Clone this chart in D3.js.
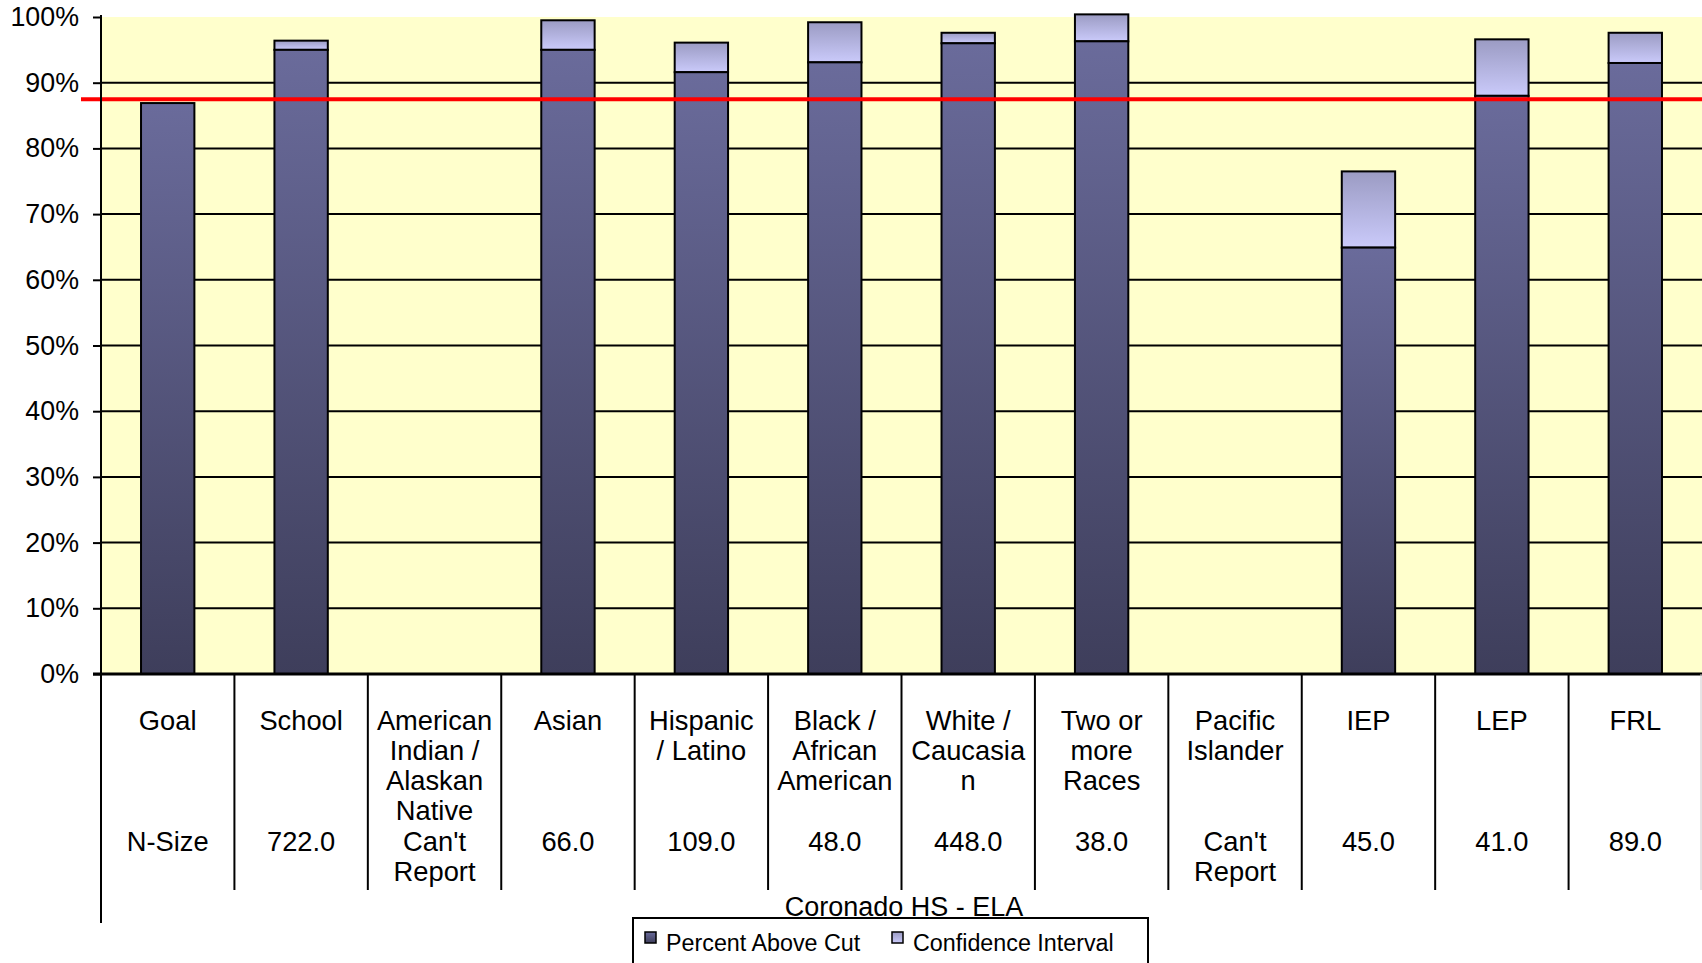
<!DOCTYPE html>
<html>
<head>
<meta charset="utf-8">
<script src="https://cdn.jsdelivr.net/npm/d3@7"></script>
<style>
  html, body { margin: 0; padding: 0; background: #ffffff; }
  svg { display: block; font-family: "Liberation Sans", Arial, sans-serif; }
</style>
</head>
<body>
<svg id="chart" width="1702" height="963"></svg>
<script>
// ---- data ----
const categories = ["Goal", "School", "American Indian / Alaskan Native", "Asian", "Hispanic / Latino",
  "Black / African American", "White / Caucasian", "Two or more Races", "Pacific Islander", "IEP", "LEP", "FRL"];
const categoryLines = [["Goal"], ["School"], ["American", "Indian /", "Alaskan", "Native"], ["Asian"],
  ["Hispanic", "/ Latino"], ["Black /", "African", "American"], ["White /", "Caucasia", "n"],
  ["Two or", "more", "Races"], ["Pacific", "Islander"], ["IEP"], ["LEP"], ["FRL"]];
const nSizeLines = [["N-Size"], ["722.0"], ["Can't", "Report"], ["66.0"], ["109.0"], ["48.0"], ["448.0"],
  ["38.0"], ["Can't", "Report"], ["45.0"], ["41.0"], ["89.0"]];
// Percent above cut (fraction)
const percentAboveCut = [0.869, 0.950, null, 0.950, 0.916, 0.931, 0.960, 0.963, null, 0.649, 0.880, 0.930];
// Upper end of confidence interval (fraction)
const ciUpper = [null, 0.964, null, 0.995, 0.961, 0.992, 0.976, 1.004, null, 0.765, 0.966, 0.976];
const goalLine = 0.875;
const yTicks = [0, 0.1, 0.2, 0.3, 0.4, 0.5, 0.6, 0.7, 0.8, 0.9, 1.0];
const chartTitle = "Coronado HS - ELA";
const legendLabels = ["Percent Above Cut", "Confidence Interval"];

// ---- layout ----
const W = 1702, H = 963;
const mLeft = 101, mRight = 1702, mTop = 17, mBottom = 674;
const svg = d3.select("#chart");

const x = d3.scaleBand().domain(categories).range([mLeft, mRight]).padding(0);
const y = d3.scaleLinear().domain([0, 1]).range([mBottom, mTop]);
const barW = x.bandwidth() * 0.4;

const defs = svg.append("defs");
const g1 = defs.append("linearGradient").attr("id", "gDark").attr("x1", 0).attr("y1", 0).attr("x2", 0).attr("y2", 1);
g1.append("stop").attr("offset", "0%").attr("stop-color", "#6a6b9b");
g1.append("stop").attr("offset", "100%").attr("stop-color", "#3e3e5b");
const g2 = defs.append("linearGradient").attr("id", "gLight").attr("x1", 0).attr("y1", 0).attr("x2", 0).attr("y2", 1);
g2.append("stop").attr("offset", "0%").attr("stop-color", "#9b9bc3");
g2.append("stop").attr("offset", "100%").attr("stop-color", "#cacafa");

// plot background
svg.append("rect").attr("x", mLeft).attr("y", mTop).attr("width", mRight - mLeft).attr("height", mBottom - mTop)
  .attr("fill", "#ffffcc");

// gridlines
svg.append("g").selectAll("line").data(yTicks.filter(t => t > 0 && t < 1)).join("line")
  .attr("x1", mLeft).attr("x2", mRight).attr("y1", d => y(d)).attr("y2", d => y(d))
  .attr("stroke", "#000").attr("stroke-width", 2);

// bars
const data = categories.map((c, i) => ({ c, v: percentAboveCut[i], ci: ciUpper[i] }));
const bars = svg.append("g");
bars.selectAll("rect.ci").data(data.filter(d => d.v != null && d.ci != null)).join("rect")
  .attr("class", "ci")
  .attr("x", d => x(d.c) + (x.bandwidth() - barW) / 2)
  .attr("y", d => y(d.ci))
  .attr("width", barW)
  .attr("height", d => y(d.v) - y(d.ci))
  .attr("fill", "url(#gLight)").attr("stroke", "#000").attr("stroke-width", 2);
bars.selectAll("rect.val").data(data.filter(d => d.v != null)).join("rect")
  .attr("class", "val")
  .attr("x", d => x(d.c) + (x.bandwidth() - barW) / 2)
  .attr("y", d => y(d.v))
  .attr("width", barW)
  .attr("height", d => y(0) - y(d.v))
  .attr("fill", "url(#gDark)").attr("stroke", "#000").attr("stroke-width", 2);

// goal line
svg.append("line").attr("x1", 81).attr("x2", mRight).attr("y1", y(goalLine)).attr("y2", y(goalLine))
  .attr("stroke", "#ff0000").attr("stroke-width", 4);

// y axis
const yAxis = d3.axisLeft(y).tickValues(yTicks).tickFormat(d3.format(".0%")).tickSize(8).tickPadding(14);
const ya = svg.append("g").attr("transform", `translate(${mLeft},0)`).call(yAxis);
ya.select(".domain").remove();
ya.selectAll(".tick line").attr("stroke", "#000").attr("stroke-width", 2);
ya.selectAll(".tick text").attr("font-size", 26.8).attr("fill", "#000")
  .attr("font-family", "'Liberation Sans', Arial, sans-serif");
svg.append("line").attr("x1", mLeft).attr("x2", mLeft).attr("y1", 15).attr("y2", 923)
  .attr("stroke", "#000").attr("stroke-width", 2);
svg.append("line").attr("x1", mLeft - 8).attr("x2", mRight).attr("y1", mBottom).attr("y2", mBottom)
  .attr("stroke", "#000").attr("stroke-width", 3);

// table dividers
svg.append("g").selectAll("line").data(categories.slice(1)).join("line")
  .attr("x1", d => x(d)).attr("x2", d => x(d)).attr("y1", mBottom).attr("y2", 890)
  .attr("stroke", "#000").attr("stroke-width", 2);
svg.append("line").attr("x1", mRight - 1).attr("x2", mRight - 1).attr("y1", mBottom).attr("y2", 890)
  .attr("stroke", "#cccccc").attr("stroke-width", 1);

// category labels
const lab = svg.append("g").attr("font-size", 27.3).attr("fill", "#000").attr("text-anchor", "middle");
categories.forEach((c, i) => {
  const cx = x(c) + x.bandwidth() / 2;
  categoryLines[i].forEach((t, k) => {
    lab.append("text").attr("x", cx).attr("y", 730 + k * 30).text(t);
  });
  nSizeLines[i].forEach((t, k) => {
    lab.append("text").attr("x", cx).attr("y", 851 + k * 30).text(t);
  });
});

// title
svg.append("text").attr("x", 904).attr("y", 916).attr("text-anchor", "middle")
  .attr("font-size", 27).attr("fill", "#000").text(chartTitle);

// legend
svg.append("rect").attr("x", 633).attr("y", 918).attr("width", 515).attr("height", 60)
  .attr("fill", "#fff").attr("stroke", "#000").attr("stroke-width", 2);
const legFills = ["url(#gDark)", "url(#gLight)"];
const legX = [645, 892];
legendLabels.forEach((t, i) => {
  svg.append("rect").attr("x", legX[i]).attr("y", 932).attr("width", 11).attr("height", 11)
    .attr("fill", legFills[i]).attr("stroke", "#000").attr("stroke-width", 1.5);
  svg.append("text").attr("x", legX[i] + 21).attr("y", 951).attr("font-size", 23.3).attr("fill", "#000").text(t);
});
</script>
</body>
</html>
